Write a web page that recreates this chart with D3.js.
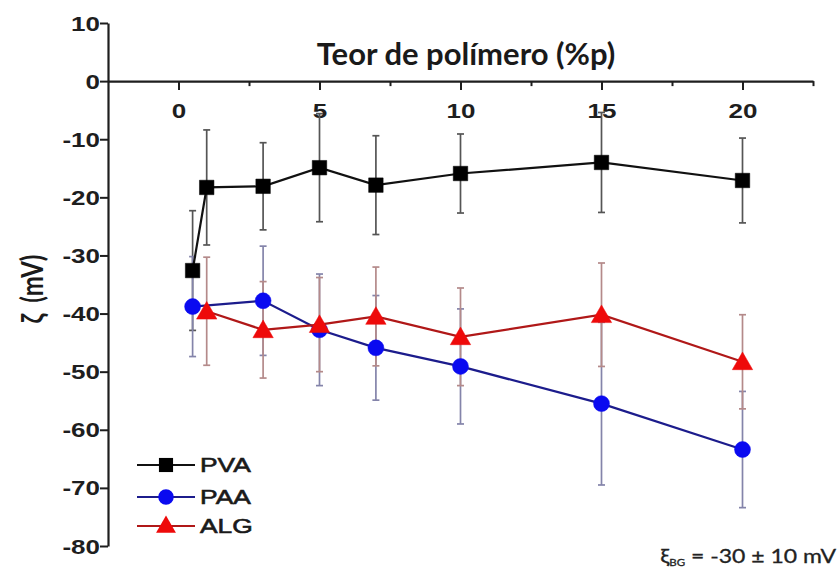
<!DOCTYPE html>
<html>
<head>
<meta charset="utf-8">
<script src="https://cdn.jsdelivr.net/npm/d3@7"></script>
<style>
  html, body { margin: 0; padding: 0; background: #fff; }
  svg { display: block; }
</style>
</head>
<body>
<svg id="chart" width="840" height="571"></svg>
<script>
// Polymer content (%p) for each series
const pvaX = [0.5, 1, 3, 5, 7, 10, 15, 20];
const pvaY = [-32.6, -18.3, -18.1, -14.9, -17.9, -15.9, -14.0, -17.1];
const pvaErr = [10.3, 9.9, 7.5, 9.3, 8.5, 6.8, 8.6, 7.3];

const paaX = [0.5, 3, 5, 7, 10, 15, 20];
const paaY = [-38.8, -37.8, -42.8, -45.9, -49.1, -55.5, -63.4];
const paaErr = [8.6, 9.4, 9.6, 9.0, 9.9, 14.0, 10.0];

const algX = [1, 3, 5, 7, 10, 15, 20];
const algY = [-39.6, -42.8, -41.9, -40.5, -44.0, -40.2, -48.3];
const algErr = [9.3, 8.3, 8.1, 8.5, 8.4, 8.9, 8.1];

const xMajorTicks = [0, 5, 10, 15, 20];
const xMinorTicks = [2.5, 7.5, 12.5, 17.5, 22.5];
const yTicks = [-80, -70, -60, -50, -40, -30, -20, -10, 0, 10];

const seriesNames = ["PVA", "PAA", "ALG"];

const svg = d3.select("#chart");

const x = d3.scaleLinear().domain([-2.5, 22.5]).range([108, 813]);
const y = d3.scaleLinear().domain([-80, 10]).range([546, 23]);

const axisColor = "#1e1e1e";
const wide = 1.3;               // horizontal stretch of the Arial labels
const fmt = d => String(d);     // plain hyphen-minus

const tickFont = sel => sel
  .attr("fill", "#1e1e1e")
  .style("font-family", "'Liberation Sans', Arial, sans-serif")
  .style("font-size", "20px")
  .style("font-weight", "bold");

// Y axis on the left
const yAxis = svg.append("g")
  .attr("transform", `translate(${x(-2.5)},0)`)
  .call(d3.axisLeft(y).tickValues(yTicks).tickSize(8).tickSizeOuter(0).tickFormat(fmt));
yAxis.select(".domain").attr("stroke", axisColor).attr("stroke-width", 2.2);
yAxis.selectAll(".tick line").attr("stroke", axisColor).attr("stroke-width", 2);
yAxis.selectAll(".tick text")
  .attr("x", 0)
  .attr("dy", "0.35em")
  .attr("transform", `translate(-8,0) scale(${wide},1)`)
  .call(tickFont);

// X axis drawn along zeta = 0
const xAxis = svg.append("g")
  .attr("transform", `translate(0,${y(0)})`)
  .call(d3.axisBottom(x).tickValues(xMajorTicks).tickSize(9).tickSizeOuter(0).tickFormat(fmt));
xAxis.select(".domain").attr("stroke", axisColor).attr("stroke-width", 2.2);
xAxis.selectAll(".tick line").attr("stroke", axisColor).attr("stroke-width", 2);
xAxis.selectAll(".tick text")
  .attr("y", 0)
  .attr("dy", 0)
  .attr("transform", `translate(0,37) scale(${wide},1)`)
  .call(tickFont);

const xMinor = svg.append("g")
  .attr("transform", `translate(0,${y(0)})`)
  .call(d3.axisBottom(x).tickValues(xMinorTicks).tickSize(5).tickSizeOuter(0).tickFormat(""));
xMinor.select(".domain").remove();
xMinor.selectAll(".tick line").attr("stroke", axisColor).attr("stroke-width", 2);

// Axis titles
svg.append("text")
  .attr("x", 466).attr("y", 65)
  .attr("text-anchor", "middle")
  .attr("fill", "#1a1a1a")
  .style("font-family", "Lato, 'Open Sans', sans-serif")
  .style("font-size", "31px")
  .style("font-weight", "bold")
  .text("Teor de polímero (%p)");

svg.append("text")
  .attr("transform", `translate(43,289) scale(${wide},1) rotate(-90)`)
  .attr("text-anchor", "middle")
  .attr("fill", "#1a1a1a")
  .style("font-family", "Lato, 'Open Sans', sans-serif")
  .style("font-size", "24px")
  .style("font-weight", "bold")
  .style("word-spacing", "5px")
  .text("ζ (mV)");

// Series drawing
const series = [
  { name: seriesNames[0], xs: pvaX, ys: pvaY, err: pvaErr, line: "#111111", fill: "#000000", bar: "#555555", shape: "square" },
  { name: seriesNames[1], xs: paaX, ys: paaY, err: paaErr, line: "#1c1c8c", fill: "#0a0af0", bar: "#8484aa", shape: "circle" },
  { name: seriesNames[2], xs: algX, ys: algY, err: algErr, line: "#b01818", fill: "#ee0a0a", bar: "#b48a8a", shape: "triangle" }
];

const symbolFor = (shape, k = 1) => {
  if (shape === "square") return d3.symbol().type(d3.symbolSquare).size(210 * k);
  if (shape === "circle") return d3.symbol().type(d3.symbolCircle).size(200 * k);
  return d3.symbol().type(d3.symbolTriangle).size(180 * k);
};

const capHalf = 3.5;

// Error bars first, behind the lines and markers
series.forEach(s => {
  const g = svg.append("g").attr("class", "err-" + s.name);
  s.xs.forEach((xv, i) => {
    const cx = x(xv);
    const top = y(s.ys[i] + s.err[i]);
    const bot = y(s.ys[i] - s.err[i]);
    g.append("line").attr("x1", cx).attr("x2", cx).attr("y1", top).attr("y2", bot)
      .attr("stroke", s.bar).attr("stroke-width", 1.7);
    [top, bot].forEach(yy => {
      g.append("line").attr("x1", cx - capHalf).attr("x2", cx + capHalf).attr("y1", yy).attr("y2", yy)
        .attr("stroke", s.bar).attr("stroke-width", 1.7);
    });
  });
});

const lineGen = d3.line().x(d => x(d[0])).y(d => y(d[1]));

series.forEach(s => {
  const pts = s.xs.map((xv, i) => [xv, s.ys[i]]);
  svg.append("path")
    .datum(pts)
    .attr("d", lineGen)
    .attr("fill", "none")
    .attr("stroke", s.line)
    .attr("stroke-width", 2.2);
  svg.append("g").selectAll("path")
    .data(pts)
    .join("path")
    .attr("d", symbolFor(s.shape))
    .attr("transform", d => `translate(${x(d[0])},${y(d[1]) + (s.shape === "triangle" ? 2 : 0)})`)
    .attr("fill", s.fill)
    .attr("stroke", s.shape === "square" ? "#000" : s.fill)
    .attr("stroke-width", 0.5);
});

// Legend
const legend = svg.append("g").attr("transform", "translate(137,0)");
const legendY = [465, 497, 526];
series.forEach((s, i) => {
  const yy = legendY[i];
  legend.append("line").attr("x1", 0).attr("x2", 58).attr("y1", yy).attr("y2", yy)
    .attr("stroke", s.line).attr("stroke-width", 2.2);
  legend.append("path")
    .attr("d", symbolFor(s.shape, 0.95))
    .attr("transform", `translate(29,${yy + (s.shape === "triangle" ? 1 : 0)})`)
    .attr("fill", s.fill);
  legend.append("text")
    .attr("transform", `translate(63,${yy + 7}) scale(1.32,1)`)
    .attr("fill", "#1a1a1a")
    .attr("stroke", "#1a1a1a")
    .attr("stroke-width", 0.6)
    .style("font-family", "'Liberation Sans', Arial, sans-serif")
    .style("font-size", "20px")
    .text(s.name);
});

// Reference value note
const note = svg.append("text")
  .attr("transform", "translate(836,563) scale(1.15,1)")
  .attr("text-anchor", "end")
  .attr("fill", "#222")
  .attr("stroke", "#222")
  .attr("stroke-width", 0.3)
  .style("font-family", "Lato, 'Open Sans', sans-serif")
  .style("font-size", "20px");
note.append("tspan").text("ξ");
note.append("tspan").attr("dy", 3).style("font-size", "10px").text("BG");
note.append("tspan").attr("dy", -3).text(" = -30 ± 10 mV");
</script>
</body>
</html>
